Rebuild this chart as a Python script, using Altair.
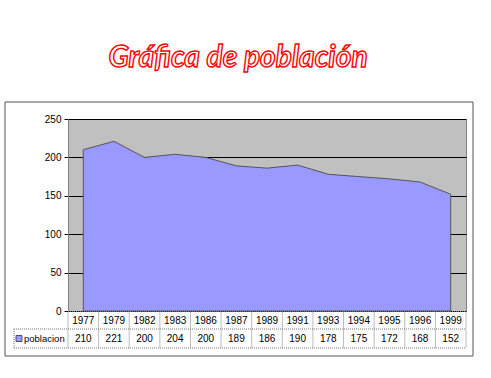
import altair as alt
import pandas as pd

years = ["1977", "1979", "1982", "1983", "1986", "1987", "1989", "1991", "1993", "1994", "1995", "1996", "1999"]
poblacion = [210, 221, 200, 204, 200, 189, 186, 190, 178, 175, 172, 168, 152]
y_ticks = [0, 50, 100, 150, 200, 250]
title_text = "Gráfica de población"
series_name = "poblacion"

df = pd.DataFrame({"year": years, "poblacion": poblacion})
one = pd.DataFrame({"t": [title_text]})

W, H = 398, 192
n = len(years)
step = W / n

xscale = alt.Scale(type="point", domain=years, padding=0.5)
X = alt.X("year:O", scale=xscale, axis=None)

area = alt.Chart(df).mark_area(color="#9999FF", stroke="#555555", strokeWidth=1).encode(
    x=X,
    y=alt.Y("poblacion:Q", scale=alt.Scale(domain=[0, 250], nice=False),
            axis=alt.Axis(values=y_ticks, grid=True, gridColor="black", gridWidth=1,
                          domain=True, domainColor="#808080", tickColor="black", tickSize=4,
                          labelFont="Liberation Sans", labelFontSize=10, labelColor="black",
                          labelPadding=3, title=None)),
)

frame = alt.Chart(one).mark_rect(fill="white", fillOpacity=0, stroke="#555555", strokeWidth=1).encode(
    x=alt.value(-63), x2=alt.value(405), y=alt.value(-17), y2=alt.value(237)
)

title = alt.Chart(one).mark_text(font="Lato", fontSize=30, fontStyle="italic", fontWeight="bold",
                                 fill="white", stroke="red", strokeWidth=1.4, align="center",
                                 baseline="alphabetic").encode(
    text="t:N", x=alt.value(170), y=alt.value(-52)
)

R1T, R1B, R2B = H + 0.5, H + 18, H + 37

year_txt = alt.Chart(df).mark_text(font="Liberation Sans", fontSize=10, color="black",
                                   baseline="middle").encode(
    x=X, y=alt.value(H + 9.5), text="year:N"
)
val_txt = alt.Chart(df).mark_text(font="Liberation Sans", fontSize=10, color="black",
                                  baseline="middle").encode(
    x=X, y=alt.value(H + 27.5), text="poblacion:Q"
)

rule_style = dict(color="#777777", strokeWidth=1, strokeDash=[1, 1])
vlines = alt.Chart(df).mark_rule(**rule_style).encode(
    x=X, y=alt.value(R1T), y2=alt.value(R2B), xOffset=alt.value(-step / 2)
)
lastv = alt.Chart(one).mark_rule(**rule_style).encode(
    x=alt.value(W), y=alt.value(R1T), y2=alt.value(R2B)
)
leftv = alt.Chart(one).mark_rule(**rule_style).encode(
    x=alt.value(-54), y=alt.value(R1B), y2=alt.value(R2B)
)
h1 = alt.Chart(one).mark_rule(**rule_style).encode(
    x=alt.value(0), x2=alt.value(W), y=alt.value(R1T)
)
h2 = alt.Chart(one).mark_rule(**rule_style).encode(
    x=alt.value(-54), x2=alt.value(W), y=alt.value(R1B)
)
h3 = alt.Chart(one).mark_rule(**rule_style).encode(
    x=alt.value(-54), x2=alt.value(W), y=alt.value(R2B)
)

swatch = alt.Chart(one).mark_square(size=36, fill="#9999FF", stroke="#333333", strokeWidth=0.8,
                                    opacity=1).encode(
    x=alt.value(-49), y=alt.value(H + 27.5)
)
legend_txt = alt.Chart(pd.DataFrame({"s": [series_name]})).mark_text(
    font="Liberation Sans", fontSize=9.5, color="black", align="left", baseline="middle").encode(
    x=alt.value(-44), y=alt.value(H + 27.5), text="s:N"
)

chart = alt.layer(
    frame, area, title, vlines, lastv, leftv, h1, h2, h3, year_txt, val_txt, swatch, legend_txt
).properties(
    width=W, height=H,
    autosize=alt.AutoSizeParams(type="none"),
    padding={"left": 68, "top": 119, "right": 25, "bottom": 67},
    background="white",
).configure_view(
    fill="#C0C0C0", stroke="#808080", strokeWidth=1
)

chart.save("out.html", embed_options={"renderer": "svg", "actions": False})
